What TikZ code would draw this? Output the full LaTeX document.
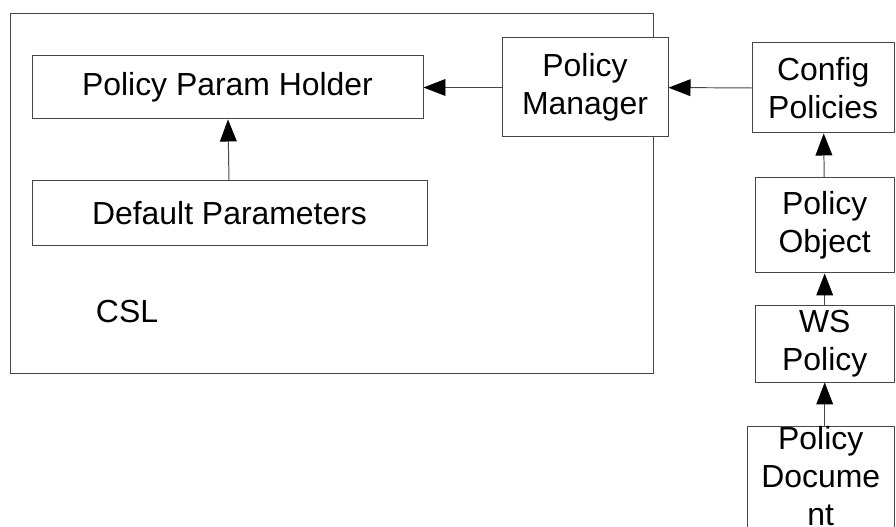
\documentclass[tikz,border=0pt]{standalone}
\usepackage{fontspec}
\setmainfont{Liberation Sans}
\usetikzlibrary{arrows.meta,positioning}

\tikzset{
	blk/.style={draw=black!72, line width=0.7pt, fill=white, align=center, inner sep=0pt},
	link/.style={draw=black!72, line width=0.7pt, -{Triangle[length=0.55cm,width=0.42cm,black]}}
}

\begin{document}
\begin{tikzpicture}[font=\fontsize{22.7}{27}\selectfont]
\clip (0,0) rectangle (22.4,13.175);

% CSL container and its content
\path (8.2875,8.3375) node[blk, minimum width=16.075cm, minimum height=8.975cm] (csl) {};
\path (3.175,5.375) node (csllabel) {CSL};
\path (5.6875,10.9875) node[blk, minimum width=9.775cm, minimum height=1.575cm] (holder) {Policy Param Holder};
\path (5.7375,7.8375) node[blk, minimum width=9.875cm, minimum height=1.625cm] (defaults) {Default Parameters};
\path (14.625,10.9875) node[blk, minimum width=4.15cm, minimum height=2.475cm] (manager) {Policy\\Manager};

% policy chain on the right
\path (20.58,10.975) node[blk, minimum width=3.56cm, minimum height=2.25cm] (config) {Config\\Policies};
\path (20.6175,7.5375) node[blk, minimum width=3.485cm, minimum height=2.375cm] (polobj) {Policy\\Object};
\path (20.6175,4.575) node[blk, minimum width=3.485cm, minimum height=1.9cm] (wspol) {WS\\Policy};
\path (20.5175,2.52) node[blk, anchor=north, minimum width=3.685cm, text depth=3cm] (poldoc) {Policy\\Docume\\nt};

\draw [link] (defaults) -- (holder);
\draw [link] (manager) -- (holder);
\draw [link] (config) -- (manager);
\draw [link] (polobj) -- (config);
\draw [link] (wspol) -- (polobj);
\draw [link] (poldoc.north -| wspol.south) -- (wspol.south);

\end{tikzpicture}
\end{document}
